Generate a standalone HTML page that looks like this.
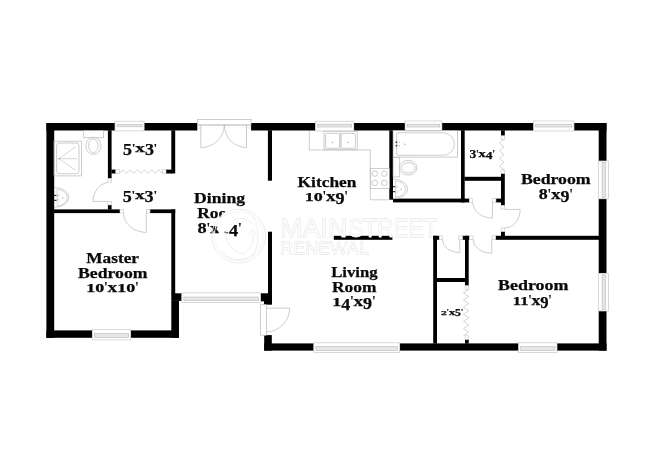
<!DOCTYPE html>
<html><head><meta charset="utf-8"><title>Floor plan</title>
<style>
html,body{margin:0;padding:0;background:#fff;}
body{width:650px;height:473px;overflow:hidden;font-family:"Liberation Serif",serif;}
svg{display:block;will-change:transform;}
.lb text{font-family:"Liberation Serif",serif;font-weight:bold;}
.wm text{font-family:"Liberation Sans",sans-serif;font-weight:normal;}
</style></head><body>
<svg width="650" height="473" viewBox="0 0 650 473">
<rect width="650" height="473" fill="#fff"/>
<g shape-rendering="auto">
<rect x="46.40" y="123.00" width="68.60" height="7.50" fill="#000" />
<rect x="144.10" y="123.00" width="53.20" height="7.50" fill="#000" />
<rect x="251.10" y="123.00" width="64.30" height="7.50" fill="#000" />
<rect x="353.80" y="123.00" width="51.30" height="7.50" fill="#000" />
<rect x="441.90" y="123.00" width="91.70" height="7.50" fill="#000" />
<rect x="574.00" y="123.00" width="32.50" height="7.50" fill="#000" />
<rect x="46.40" y="123.00" width="7.80" height="214.80" fill="#000" />
<rect x="46.40" y="330.40" width="45.90" height="7.40" fill="#000" />
<rect x="130.70" y="330.40" width="48.30" height="7.40" fill="#000" />
<rect x="171.30" y="300.70" width="7.70" height="37.10" fill="#000" />
<rect x="171.30" y="293.30" width="10.50" height="7.60" fill="#000" />
<rect x="260.60" y="293.30" width="11.40" height="8.00" fill="#000" />
<rect x="264.00" y="301.00" width="8.00" height="3.70" fill="#000" />
<rect x="264.20" y="335.10" width="7.60" height="15.50" fill="#000" />
<rect x="264.20" y="343.40" width="49.60" height="7.20" fill="#000" />
<rect x="399.70" y="343.40" width="118.90" height="7.20" fill="#000" />
<rect x="557.00" y="343.40" width="49.50" height="7.20" fill="#000" />
<rect x="598.70" y="123.00" width="7.80" height="38.00" fill="#000" />
<rect x="598.70" y="198.60" width="7.80" height="74.70" fill="#000" />
<rect x="598.70" y="310.90" width="7.80" height="39.70" fill="#000" />
<rect x="107.90" y="130.30" width="3.70" height="48.20" fill="#000" />
<rect x="107.90" y="205.00" width="3.70" height="4.60" fill="#000" />
<rect x="111.40" y="169.60" width="4.40" height="3.90" fill="#000" />
<rect x="166.00" y="169.60" width="6.00" height="3.90" fill="#000" />
<rect x="171.30" y="130.30" width="3.90" height="43.20" fill="#000" />
<rect x="54.00" y="209.40" width="66.00" height="3.70" fill="#000" />
<rect x="150.00" y="209.40" width="25.20" height="3.70" fill="#000" />
<rect x="171.30" y="209.40" width="3.90" height="84.60" fill="#000" />
<rect x="267.90" y="130.30" width="4.10" height="50.40" fill="#000" />
<rect x="268.00" y="231.70" width="4.00" height="62.30" fill="#000" />
<rect x="333.80" y="235.80" width="58.60" height="4.00" fill="#000" />
<rect x="389.30" y="130.30" width="3.70" height="69.40" fill="#000" />
<rect x="393.00" y="198.60" width="76.30" height="3.80" fill="#000" />
<rect x="461.00" y="130.30" width="3.70" height="72.10" fill="#000" />
<rect x="495.90" y="198.60" width="5.30" height="3.80" fill="#000" />
<rect x="464.50" y="176.80" width="36.70" height="4.00" fill="#000" />
<rect x="501.00" y="130.30" width="3.80" height="5.50" fill="#000" />
<rect x="501.00" y="173.50" width="3.80" height="32.00" fill="#000" />
<rect x="495.60" y="235.80" width="103.40" height="4.00" fill="#000" />
<rect x="501.00" y="231.50" width="3.90" height="4.50" fill="#000" />
<rect x="433.20" y="235.80" width="3.80" height="107.80" fill="#000" />
<rect x="433.20" y="235.80" width="6.10" height="4.00" fill="#000" />
<rect x="462.40" y="235.80" width="7.00" height="4.00" fill="#000" />
<rect x="465.00" y="235.80" width="3.70" height="49.90" fill="#000" />
<rect x="465.00" y="339.40" width="3.70" height="4.20" fill="#000" />
<rect x="436.80" y="278.00" width="28.40" height="4.00" fill="#000" />
<rect x="115.00" y="121.20" width="29.10" height="9.70" fill="#fff" stroke="#c8c8c8" stroke-width="0.7"/>
<rect x="117.10" y="124.40" width="24.90" height="2.40" fill="#e6e6e6" stroke="#b8b8b8" stroke-width="0.6"/>
<rect x="315.40" y="121.20" width="38.40" height="9.80" fill="#fff" stroke="#c8c8c8" stroke-width="0.7"/>
<rect x="317.50" y="124.20" width="34.20" height="2.80" fill="#e6e6e6" stroke="#b8b8b8" stroke-width="0.6"/>
<rect x="405.10" y="121.00" width="36.80" height="10.00" fill="#fff" stroke="#c8c8c8" stroke-width="0.7"/>
<rect x="407.20" y="124.20" width="32.60" height="2.80" fill="#e6e6e6" stroke="#b8b8b8" stroke-width="0.6"/>
<rect x="533.60" y="121.00" width="40.40" height="10.00" fill="#fff" stroke="#c8c8c8" stroke-width="0.7"/>
<rect x="535.70" y="124.20" width="36.20" height="2.80" fill="#e6e6e6" stroke="#b8b8b8" stroke-width="0.6"/>
<rect x="92.30" y="329.70" width="38.40" height="10.20" fill="#fff" stroke="#c8c8c8" stroke-width="0.7"/>
<rect x="94.40" y="333.50" width="34.20" height="3.80" fill="#e6e6e6" stroke="#b8b8b8" stroke-width="0.6"/>
<rect x="181.80" y="292.90" width="78.80" height="9.60" fill="#fff" stroke="#c8c8c8" stroke-width="0.7"/>
<rect x="183.90" y="297.00" width="74.60" height="3.70" fill="#e6e6e6" stroke="#b8b8b8" stroke-width="0.6"/>
<rect x="313.80" y="342.80" width="85.90" height="9.60" fill="#fff" stroke="#c8c8c8" stroke-width="0.7"/>
<rect x="315.90" y="346.60" width="81.70" height="3.80" fill="#e6e6e6" stroke="#b8b8b8" stroke-width="0.6"/>
<rect x="518.60" y="342.80" width="38.40" height="9.60" fill="#fff" stroke="#c8c8c8" stroke-width="0.7"/>
<rect x="520.70" y="346.60" width="34.20" height="3.80" fill="#e6e6e6" stroke="#b8b8b8" stroke-width="0.6"/>
<rect x="598.30" y="161.00" width="10.10" height="37.80" fill="#fff" stroke="#c8c8c8" stroke-width="0.7"/>
<rect x="602.10" y="162.60" width="3.40" height="34.60" fill="#e6e6e6" stroke="#b8b8b8" stroke-width="0.6"/>
<rect x="598.30" y="273.30" width="10.10" height="37.70" fill="#fff" stroke="#c8c8c8" stroke-width="0.7"/>
<rect x="602.10" y="274.90" width="3.40" height="34.50" fill="#e6e6e6" stroke="#b8b8b8" stroke-width="0.6"/>
<rect x="115.80" y="169.70" width="3.60" height="3.70" fill="#fff" stroke="#c2c2c2" stroke-width="0.6"/>
<rect x="162.50" y="169.70" width="3.50" height="3.70" fill="#fff" stroke="#c2c2c2" stroke-width="0.6"/>
<rect x="108.00" y="178.50" width="3.50" height="3.50" fill="#fff" stroke="#c2c2c2" stroke-width="0.6"/>
<rect x="108.00" y="201.50" width="3.50" height="3.50" fill="#fff" stroke="#c2c2c2" stroke-width="0.6"/>
<rect x="120.00" y="209.50" width="3.50" height="3.50" fill="#fff" stroke="#c2c2c2" stroke-width="0.6"/>
<rect x="146.40" y="209.50" width="3.60" height="3.50" fill="#fff" stroke="#c2c2c2" stroke-width="0.6"/>
<rect x="469.30" y="198.70" width="3.40" height="3.60" fill="#fff" stroke="#c2c2c2" stroke-width="0.6"/>
<rect x="492.50" y="198.70" width="3.40" height="3.60" fill="#fff" stroke="#c2c2c2" stroke-width="0.6"/>
<rect x="501.10" y="135.80" width="3.60" height="3.40" fill="#fff" stroke="#c2c2c2" stroke-width="0.6"/>
<rect x="501.10" y="170.00" width="3.60" height="3.50" fill="#fff" stroke="#c2c2c2" stroke-width="0.6"/>
<rect x="501.10" y="205.50" width="3.60" height="3.50" fill="#fff" stroke="#c2c2c2" stroke-width="0.6"/>
<rect x="501.10" y="228.00" width="3.60" height="3.50" fill="#fff" stroke="#c2c2c2" stroke-width="0.6"/>
<rect x="439.30" y="235.90" width="3.30" height="3.80" fill="#fff" stroke="#c2c2c2" stroke-width="0.6"/>
<rect x="458.80" y="235.90" width="3.60" height="3.80" fill="#fff" stroke="#c2c2c2" stroke-width="0.6"/>
<rect x="469.40" y="235.90" width="3.60" height="3.80" fill="#fff" stroke="#c2c2c2" stroke-width="0.6"/>
<rect x="492.00" y="235.90" width="3.60" height="3.80" fill="#fff" stroke="#c2c2c2" stroke-width="0.6"/>
<rect x="465.10" y="285.70" width="3.50" height="3.60" fill="#fff" stroke="#c2c2c2" stroke-width="0.6"/>
<rect x="465.10" y="335.80" width="3.50" height="3.60" fill="#fff" stroke="#c2c2c2" stroke-width="0.6"/>
<path d="M119.40 173.30 L122.99 169.90 L126.58 173.30 L130.18 169.90 L133.77 173.30 L137.36 169.90 L140.95 173.30 L144.54 169.90 L148.13 173.30 L151.72 169.90 L155.32 173.30 L158.91 169.90 L162.50 173.30" fill="none" stroke="#b8b8b8" stroke-width="0.6"/>
<path d="M504.00 139.20 L499.50 143.05 L504.00 146.90 L499.50 150.75 L504.00 154.60 L499.50 158.45 L504.00 162.30 L499.50 166.15 L504.00 170.00" fill="none" stroke="#b8b8b8" stroke-width="0.6"/>
<path d="M468.90 289.30 L463.40 292.88 L468.90 296.45 L463.40 300.03 L468.90 303.61 L463.40 307.18 L468.90 310.76 L463.40 314.34 L468.90 317.92 L463.40 321.49 L468.90 325.07 L463.40 328.65 L468.90 332.22 L463.40 335.80" fill="none" stroke="#b8b8b8" stroke-width="0.6"/>
<rect x="197.4" y="119.6" width="53.6" height="5.2" fill="#fff" stroke="#b8b8b8" stroke-width="0.7"/>
<path d="M197.40 125.60 L251.00 125.60" fill="none" stroke="#b8b8b8" stroke-width="0.5"/>
<path d="M200.8 124.8 L200.8 147.6 A23.4 22.8 0 0 0 224.3 124.8" fill="none" stroke="#b8b8b8" stroke-width="0.7"/>
<path d="M246.5 124.8 L246.5 147.6 A22.4 22.8 0 0 1 224.3 124.8" fill="none" stroke="#b8b8b8" stroke-width="0.7"/>
<path d="M197.60 128.00 L200.80 128.00" fill="none" stroke="#b8b8b8" stroke-width="0.5"/>
<path d="M246.50 128.00 L251.00 128.00" fill="none" stroke="#b8b8b8" stroke-width="0.5"/>
<rect x="260.4" y="304.7" width="6.1" height="30.5" fill="#fff" stroke="#b8b8b8" stroke-width="0.7"/>
<path d="M266.5 308.1 L289.6 308.1 A23.1 23.7 0 0 1 266.5 331.8" fill="none" stroke="#b8b8b8" stroke-width="0.7"/>
<path d="M108.0 201.4 L92.8 201.4 A18.4 19 0 0 1 108.0 182.4" fill="none" stroke="#b8b8b8" stroke-width="0.7"/>
<path d="M146.3 213 L146.3 232.4 A22.8 19.6 0 0 1 123.5 213" fill="none" stroke="#b8b8b8" stroke-width="0.7"/>
<path d="M492.5 202.4 L492.5 218.0 A19.8 15.8 0 0 1 472.7 202.4" fill="none" stroke="#b8b8b8" stroke-width="0.7"/>
<path d="M504.8 209.4 L520.2 209.4 A15.4 18.6 0 0 1 504.8 228.0" fill="none" stroke="#b8b8b8" stroke-width="0.7"/>
<path d="M459.8 239.8 L459.8 252.6 A17.4 12.8 0 0 1 442.4 239.8" fill="none" stroke="#b8b8b8" stroke-width="0.7"/>
<path d="M491.8 239.8 L491.8 253.3 A18.6 13.5 0 0 1 473.2 239.8" fill="none" stroke="#b8b8b8" stroke-width="0.7"/>
<rect x="54.00" y="141.20" width="27.40" height="34.70" rx="0" fill="none" stroke="#b8b8b8" stroke-width="0.7"/>
<rect x="56.60" y="143.00" width="22.40" height="30.70" rx="3" fill="none" stroke="#b8b8b8" stroke-width="0.7"/>
<path d="M59.00 158.70 L75.70 146.80" fill="none" stroke="#b8b8b8" stroke-width="0.6"/>
<path d="M59.00 158.70 L77.00 158.70" fill="none" stroke="#b8b8b8" stroke-width="0.6"/>
<path d="M59.00 158.70 L75.70 170.30" fill="none" stroke="#b8b8b8" stroke-width="0.6"/>
<circle cx="59" cy="158.7" r="0.8" fill="#aaa"/>
<rect x="83.70" y="130.60" width="19.70" height="7.20" rx="0" fill="none" stroke="#b8b8b8" stroke-width="0.7"/>
<ellipse cx="93.40" cy="145.80" rx="7.60" ry="8.60" fill="none" stroke="#b8b8b8" stroke-width="0.7"/>
<ellipse cx="93.40" cy="145.80" rx="4.70" ry="6.80" fill="none" stroke="#b8b8b8" stroke-width="0.7"/>
<path d="M54 187.4 A14.9 10 0 0 1 54 207.4" fill="none" stroke="#b8b8b8" stroke-width="0.7"/>
<path d="M57.2 189.4 A10.1 8.2 0 0 1 57.2 205.8 Z" fill="none" stroke="#b8b8b8" stroke-width="0.6"/>
<rect x="54.00" y="194.90" width="2.60" height="1.10" fill="#222" />
<rect x="54.00" y="199.80" width="2.60" height="1.10" fill="#222" />
<ellipse cx="58.20" cy="195.40" rx="1.40" ry="0.90" fill="none" stroke="#b8b8b8" stroke-width="0.5"/>
<ellipse cx="58.20" cy="200.30" rx="1.40" ry="0.90" fill="none" stroke="#b8b8b8" stroke-width="0.5"/>
<circle cx="62.6" cy="197.9" r="0.7" fill="#aaa"/>
<path d="M309.30 131.00 L309.30 150.00 L370.30 150.00 L370.30 199.80 L389.50 199.80" fill="none" stroke="#b8b8b8" stroke-width="0.7"/>
<rect x="324.00" y="131.20" width="33.20" height="18.60" rx="0" fill="none" stroke="#b8b8b8" stroke-width="0.7"/>
<rect x="325.60" y="133.40" width="13.90" height="14.80" rx="1" fill="none" stroke="#b8b8b8" stroke-width="0.7"/>
<rect x="341.20" y="133.40" width="14.20" height="14.80" rx="1" fill="none" stroke="#b8b8b8" stroke-width="0.7"/>
<circle cx="332.6" cy="142.4" r="0.7" fill="#aaa"/><circle cx="348.3" cy="142.4" r="0.7" fill="#aaa"/>
<path d="M340.30 131.20 L340.30 149.80" fill="none" stroke="#b8b8b8" stroke-width="0.5"/>
<rect x="370.30" y="168.50" width="19.20" height="20.00" rx="0" fill="none" stroke="#b8b8b8" stroke-width="0.7"/>
<circle cx="374.8" cy="173.6" r="2.8" fill="none" stroke="#b8b8b8" stroke-width="0.7"/>
<circle cx="374.8" cy="182.9" r="2.8" fill="none" stroke="#b8b8b8" stroke-width="0.7"/>
<circle cx="384.3" cy="173.6" r="2.8" fill="none" stroke="#b8b8b8" stroke-width="0.7"/>
<circle cx="384.3" cy="182.9" r="2.8" fill="none" stroke="#b8b8b8" stroke-width="0.7"/>
<rect x="393.10" y="130.60" width="64.50" height="26.50" rx="0" fill="none" stroke="#b8b8b8" stroke-width="0.7"/>
<path d="M398 132.8 L443.2 132.8 A11.25 11.25 0 0 1 443.2 155.3 L398 155.3 Q396.7 155.3 396.7 154 L396.7 134.1 Q396.7 132.8 398 132.8 Z" fill="none" stroke="#b8b8b8" stroke-width="0.7"/>
<circle cx="396.4" cy="142.2" r="0.9" fill="#444"/><circle cx="396.4" cy="145.7" r="0.9" fill="#444"/><circle cx="399.3" cy="142.2" r="0.6" fill="#bbb"/><circle cx="399.3" cy="145.7" r="0.6" fill="#bbb"/><circle cx="404.7" cy="144.2" r="0.7" fill="#aaa"/>
<rect x="393.10" y="157.60" width="6.60" height="19.30" rx="0" fill="none" stroke="#b8b8b8" stroke-width="0.7"/>
<ellipse cx="408.20" cy="167.70" rx="8.70" ry="7.30" fill="none" stroke="#b8b8b8" stroke-width="0.7"/>
<ellipse cx="408.40" cy="167.80" rx="6.80" ry="5.20" fill="none" stroke="#b8b8b8" stroke-width="0.7"/>
<path d="M393.1 179.1 A14.7 9.8 0 0 1 393.1 198.7" fill="none" stroke="#b8b8b8" stroke-width="0.7"/>
<path d="M395.5 181.0 A10.1 8.0 0 0 1 395.5 197.0 Z" fill="none" stroke="#b8b8b8" stroke-width="0.6"/>
<rect x="393.00" y="186.10" width="2.20" height="1.10" fill="#222" />
<rect x="393.00" y="191.10" width="2.20" height="1.10" fill="#222" />
<ellipse cx="396.80" cy="186.60" rx="1.30" ry="0.90" fill="none" stroke="#b8b8b8" stroke-width="0.5"/>
<ellipse cx="396.80" cy="191.60" rx="1.30" ry="0.90" fill="none" stroke="#b8b8b8" stroke-width="0.5"/>
<circle cx="401" cy="189.3" r="0.7" fill="#aaa"/>
</g>
<g class="lb" fill="#0a0a0a" stroke="#0a0a0a" stroke-width="0.25">
<text x="86.30" y="262.80" font-size="15.01" textLength="52.70" lengthAdjust="spacingAndGlyphs">Master</text>
<text x="78.00" y="277.70" font-size="15.01" textLength="69.50" lengthAdjust="spacingAndGlyphs">Bedroom</text>
<text x="86.20" y="292.30" font-size="11.50" textLength="9.03" lengthAdjust="spacingAndGlyphs">1</text>
<text x="95.23" y="292.30" font-size="11.72" textLength="9.03" lengthAdjust="spacingAndGlyphs">0</text>
<text x="104.26" y="292.30" font-size="15.01" textLength="3.26" lengthAdjust="spacingAndGlyphs">&#39;</text>
<text x="107.52" y="292.30" font-size="15.01" textLength="9.66" lengthAdjust="spacingAndGlyphs">x</text>
<text x="117.18" y="292.30" font-size="11.50" textLength="9.03" lengthAdjust="spacingAndGlyphs">1</text>
<text x="126.21" y="292.30" font-size="11.72" textLength="9.03" lengthAdjust="spacingAndGlyphs">0</text>
<text x="135.24" y="292.30" font-size="15.01" textLength="3.26" lengthAdjust="spacingAndGlyphs">&#39;</text>
<text x="123.10" y="154.80" font-size="15.73" textLength="8.97" lengthAdjust="spacingAndGlyphs">5</text>
<text x="132.07" y="152.20" font-size="13.14" textLength="3.23" lengthAdjust="spacingAndGlyphs">&#39;</text>
<text x="135.30" y="152.20" font-size="13.14" textLength="9.60" lengthAdjust="spacingAndGlyphs">x</text>
<text x="144.90" y="154.80" font-size="15.73" textLength="8.97" lengthAdjust="spacingAndGlyphs">3</text>
<text x="153.87" y="152.20" font-size="13.14" textLength="3.23" lengthAdjust="spacingAndGlyphs">&#39;</text>
<text x="122.70" y="201.80" font-size="15.73" textLength="9.02" lengthAdjust="spacingAndGlyphs">5</text>
<text x="131.72" y="199.20" font-size="13.14" textLength="3.25" lengthAdjust="spacingAndGlyphs">&#39;</text>
<text x="134.97" y="199.20" font-size="13.14" textLength="9.65" lengthAdjust="spacingAndGlyphs">x</text>
<text x="144.63" y="201.80" font-size="15.73" textLength="9.02" lengthAdjust="spacingAndGlyphs">3</text>
<text x="153.65" y="199.20" font-size="13.14" textLength="3.25" lengthAdjust="spacingAndGlyphs">&#39;</text>
<text x="194.10" y="203.40" font-size="15.01" textLength="51.10" lengthAdjust="spacingAndGlyphs">Dining</text>
<text x="197.20" y="218.10" font-size="15.01" textLength="44.40" lengthAdjust="spacingAndGlyphs">Room</text>
<text x="197.60" y="232.70" font-size="15.11" textLength="9.16" lengthAdjust="spacingAndGlyphs">8</text>
<text x="206.76" y="232.70" font-size="15.01" textLength="3.30" lengthAdjust="spacingAndGlyphs">&#39;</text>
<text x="210.07" y="232.70" font-size="15.01" textLength="9.80" lengthAdjust="spacingAndGlyphs">x</text>
<text x="219.87" y="232.70" font-size="11.50" textLength="9.16" lengthAdjust="spacingAndGlyphs">1</text>
<text x="229.03" y="236.11" font-size="16.87" textLength="9.16" lengthAdjust="spacingAndGlyphs">4</text>
<text x="238.20" y="232.70" font-size="15.01" textLength="3.30" lengthAdjust="spacingAndGlyphs">&#39;</text>
<text x="297.60" y="186.50" font-size="15.01" textLength="58.90" lengthAdjust="spacingAndGlyphs">Kitchen</text>
<text x="304.70" y="201.10" font-size="11.50" textLength="9.00" lengthAdjust="spacingAndGlyphs">1</text>
<text x="313.70" y="201.10" font-size="11.72" textLength="9.00" lengthAdjust="spacingAndGlyphs">0</text>
<text x="322.69" y="201.10" font-size="15.01" textLength="3.24" lengthAdjust="spacingAndGlyphs">&#39;</text>
<text x="325.93" y="201.10" font-size="15.01" textLength="9.63" lengthAdjust="spacingAndGlyphs">x</text>
<text x="335.56" y="204.14" font-size="16.21" textLength="9.00" lengthAdjust="spacingAndGlyphs">9</text>
<text x="344.56" y="201.10" font-size="15.01" textLength="3.24" lengthAdjust="spacingAndGlyphs">&#39;</text>
<text x="331.20" y="276.60" font-size="15.01" textLength="46.50" lengthAdjust="spacingAndGlyphs">Living</text>
<text x="332.00" y="291.80" font-size="15.01" textLength="44.40" lengthAdjust="spacingAndGlyphs">Room</text>
<text x="332.20" y="306.30" font-size="11.50" textLength="9.02" lengthAdjust="spacingAndGlyphs">1</text>
<text x="341.22" y="309.71" font-size="16.87" textLength="9.02" lengthAdjust="spacingAndGlyphs">4</text>
<text x="350.23" y="306.30" font-size="15.01" textLength="3.25" lengthAdjust="spacingAndGlyphs">&#39;</text>
<text x="353.48" y="306.30" font-size="15.01" textLength="9.65" lengthAdjust="spacingAndGlyphs">x</text>
<text x="363.13" y="309.35" font-size="16.21" textLength="9.02" lengthAdjust="spacingAndGlyphs">9</text>
<text x="372.15" y="306.30" font-size="15.01" textLength="3.25" lengthAdjust="spacingAndGlyphs">&#39;</text>
<text x="469.40" y="158.43" font-size="11.64" textLength="6.73" lengthAdjust="spacingAndGlyphs">3</text>
<text x="476.13" y="156.50" font-size="9.73" textLength="2.43" lengthAdjust="spacingAndGlyphs">&#39;</text>
<text x="478.55" y="156.50" font-size="9.73" textLength="7.20" lengthAdjust="spacingAndGlyphs">x</text>
<text x="485.75" y="158.71" font-size="10.93" textLength="6.73" lengthAdjust="spacingAndGlyphs">4</text>
<text x="492.47" y="156.50" font-size="9.73" textLength="2.43" lengthAdjust="spacingAndGlyphs">&#39;</text>
<text x="520.90" y="184.40" font-size="15.01" textLength="69.80" lengthAdjust="spacingAndGlyphs">Bedroom</text>
<text x="538.80" y="198.80" font-size="15.11" textLength="8.97" lengthAdjust="spacingAndGlyphs">8</text>
<text x="547.77" y="198.80" font-size="15.01" textLength="3.23" lengthAdjust="spacingAndGlyphs">&#39;</text>
<text x="551.00" y="198.80" font-size="15.01" textLength="9.60" lengthAdjust="spacingAndGlyphs">x</text>
<text x="560.60" y="201.84" font-size="16.21" textLength="8.97" lengthAdjust="spacingAndGlyphs">9</text>
<text x="569.57" y="198.80" font-size="15.01" textLength="3.23" lengthAdjust="spacingAndGlyphs">&#39;</text>
<text x="498.10" y="290.30" font-size="15.01" textLength="70.40" lengthAdjust="spacingAndGlyphs">Bedroom</text>
<text x="512.80" y="305.30" font-size="11.50" textLength="15.62" lengthAdjust="spacingAndGlyphs">11</text>
<text x="528.42" y="305.30" font-size="15.01" textLength="2.98" lengthAdjust="spacingAndGlyphs">&#39;</text>
<text x="531.40" y="305.30" font-size="15.01" textLength="8.85" lengthAdjust="spacingAndGlyphs">x</text>
<text x="540.25" y="308.35" font-size="16.21" textLength="8.27" lengthAdjust="spacingAndGlyphs">9</text>
<text x="548.52" y="305.30" font-size="15.01" textLength="2.98" lengthAdjust="spacingAndGlyphs">&#39;</text>
<text x="441.00" y="314.55" font-size="6.82" textLength="5.80" lengthAdjust="spacingAndGlyphs">2</text>
<text x="446.80" y="314.55" font-size="8.90" textLength="2.09" lengthAdjust="spacingAndGlyphs">&#39;</text>
<text x="448.90" y="314.55" font-size="8.90" textLength="6.21" lengthAdjust="spacingAndGlyphs">x</text>
<text x="455.10" y="316.31" font-size="10.65" textLength="5.80" lengthAdjust="spacingAndGlyphs">5</text>
<text x="460.91" y="314.55" font-size="8.90" textLength="2.09" lengthAdjust="spacingAndGlyphs">&#39;</text>
</g>

<g>
<path d="M219.8 240 L219.2 234 L216.2 223.5 Q218.5 219 222 215.5 L226.6 210 Q231 208 238 208 Q248 208 256 213.5 L252.5 222 Q247 219.3 240 219.4 Q232 219.6 229 223 Q226.8 226 226.6 231 L224.6 231.6 L224.6 233.6 L226.4 233.6 L226 240 Z" fill="#fff"/>
<circle cx="238.7" cy="236.1" r="27" fill="none" stroke="#e9e9e9" stroke-width="0.9"/>
<circle cx="238.7" cy="236.1" r="24.6" fill="none" stroke="#f0f0f0" stroke-width="0.8"/>
<path d="M252.5 216.5 C262 232 258 250 250.5 258 M221 250 C228 262 246 264 256 250 M226 228 C224 240 230 252 244 254 M244 254 C252 248 254 240 253 232.6 M248.5 234.5 L253 229.5 L257.5 235.5 M231 222 C238 216 248 218 252.5 224" fill="none" stroke="#ececec" stroke-width="0.9"/>
</g>
<g class="wm" fill="#fbfbfb" stroke="#e1e1e1" stroke-width="0.8" paint-order="stroke">
<text x="280.3" y="236.9" font-size="25" textLength="67" lengthAdjust="spacingAndGlyphs">MAIN</text>
<text x="348.2" y="236.9" font-size="25" textLength="89.5" lengthAdjust="spacingAndGlyphs">STREET</text>
<text x="280" y="254.4" font-size="17" textLength="89" lengthAdjust="spacingAndGlyphs">RENEWAL</text>
</g>

</svg>
</body></html>
